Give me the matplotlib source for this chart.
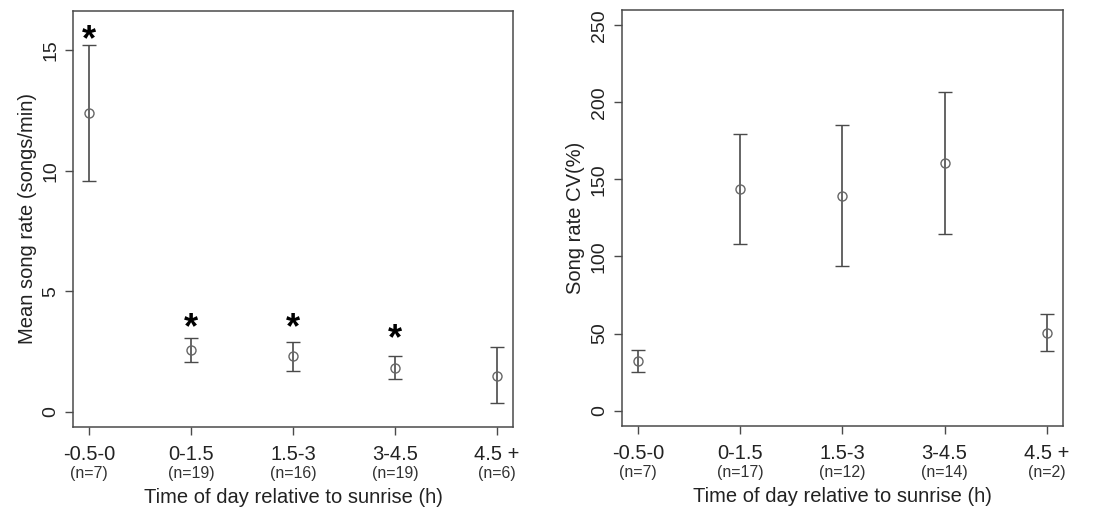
import numpy as np
import matplotlib
matplotlib.use('Agg')
import matplotlib.pyplot as plt
from matplotlib.transforms import blended_transform_factory

plt.rcParams['font.family'] = ['Liberation Sans', 'DejaVu Sans']

# time bins (same for both panels)
bins = ['-0.5-0', '0-1.5', '1.5-3', '3-4.5', '4.5 +']

# left panel: mean song rate
rate_mean = [12.41, 2.55, 2.29, 1.82, 1.48]
rate_lo = [9.57, 2.08, 1.68, 1.36, 0.36]
rate_hi = [15.22, 3.05, 2.91, 2.29, 2.67]
rate_n = ['(n=7)', '(n=19)', '(n=16)', '(n=19)', '(n=6)']
# significance marks (bin index, y of star)
star_idx = [0, 1, 2, 3]
star_y = [15.9, 3.9, 3.9, 3.45]

# right panel: song rate CV
cv_mean = [32.5, 143.9, 139.3, 160.8, 50.5]
cv_lo = [24.9, 108.1, 93.6, 114.4, 38.6]
cv_hi = [39.0, 179.7, 185.3, 206.8, 62.4]
cv_n = ['(n=7)', '(n=17)', '(n=12)', '(n=14)', '(n=2)']

grey = '#4a4a4a'
fig = plt.figure(figsize=(10.99, 5.13), dpi=100)
ax1 = fig.add_axes([0.0664, 0.1676, 0.4004, 0.811])
ax2 = fig.add_axes([0.5657, 0.1696, 0.4016, 0.811])


def panel(ax, mean, lo, hi, nlab, ylim, yticks, ylabel):
    x = np.arange(1, len(mean) + 1)
    mean = np.array(mean)
    err = [mean - np.array(lo), np.array(hi) - mean]
    ax.errorbar(x, mean, yerr=err, fmt='o', ms=6.5, mfc='none', mec='#666666',
                mew=1.0, ecolor=grey, elinewidth=1.2, capsize=5, capthick=1.2)
    ax.set_xlim(0.84, 5.16)
    ax.set_ylim(*ylim)
    ax.set_xticks(x)
    ax.set_xticklabels(bins, fontsize=14.5, color='#222222')
    ax.set_yticks(yticks)
    ax.set_yticklabels([str(t) for t in yticks], rotation=90, va='center',
                       fontsize=14, color='#222222')
    ax.tick_params(direction='out', length=6, width=1, color=grey, pad=4)
    ax.tick_params(axis='x', pad=7)
    for s in ax.spines.values():
        s.set_color(grey)
        s.set_linewidth(1.1)
    tr = blended_transform_factory(ax.transData, ax.transAxes)
    for xi, t in zip(x, nlab):
        ax.text(xi, -0.112, t, transform=tr, ha='center', va='center',
                fontsize=11.5, color='#333333')
    ax.set_xlabel('Time of day relative to sunrise (h)', fontsize=14.5,
                  color='#222222', labelpad=17)
    ax.set_ylabel(ylabel, fontsize=14.5, color='#222222', labelpad=4)


panel(ax1, rate_mean, rate_lo, rate_hi, rate_n, (-0.64, 16.64),
      [0, 5, 10, 15], 'Mean song rate (songs/min)')
panel(ax2, cv_mean, cv_lo, cv_hi, cv_n, (-10, 260),
      [0, 50, 100, 150, 200, 250], 'Song rate CV(%)')

fs = 26
for i, ys in zip(star_idx, star_y):
    ax1.annotate('*', xy=(i + 1, ys), xytext=(0, -0.58 * fs),
                 textcoords='offset points', ha='center', va='baseline',
                 fontsize=fs, fontweight='bold', color='black')

fig.savefig('out.png', dpi=100)
